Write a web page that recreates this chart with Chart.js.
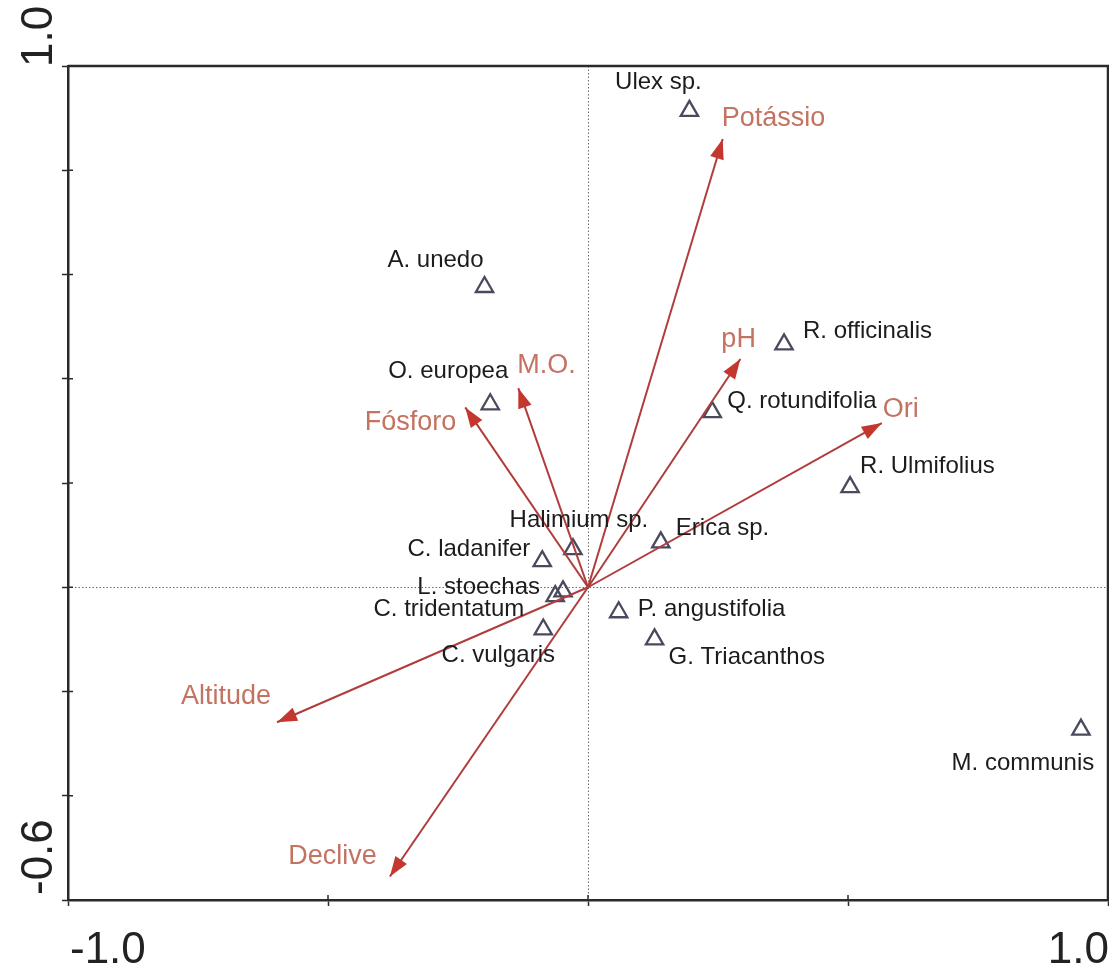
<!DOCTYPE html>
<html>
<head>
<meta charset="utf-8">
<script src="https://cdn.jsdelivr.net/npm/chart.js@4.4.1/dist/chart.umd.min.js"></script>
<style>
  html, body { margin: 0; padding: 0; background: #fff; }
  canvas { display: block; }
</style>
</head>
<body>
<canvas id="myChart" width="1109" height="969"></canvas>
<script>
// species scores
var speciesNames = ["Ulex sp.", "A. unedo", "R. officinalis", "O. europea", "Q. rotundifolia",
    "R. Ulmifolius", "Halimium sp.", "Erica sp.", "C. ladanifer", "L. stoechas",
    "C. tridentatum", "P. angustifolia", "C. vulgaris", "G. Triacanthos", "M. communis"];
var speciesX = [0.195, -0.199, 0.377, -0.188, 0.239, 0.504, -0.029, 0.140, -0.088, -0.048,
    -0.063, 0.059, -0.086, 0.128, 0.948];
var speciesY = [0.914, 0.576, 0.466, 0.351, 0.336, 0.192, 0.073, 0.086, 0.050, -0.008,
    -0.017, -0.048, -0.081, -0.100, -0.273];

// environmental variables (arrow tips)
var envNames = ["Potássio", "pH", "Ori", "M.O.", "Fósforo", "Altitude", "Declive"];
var envX = [0.259, 0.293, 0.565, -0.134, -0.236, -0.598, -0.381];
var envY = [0.860, 0.438, 0.315, 0.382, 0.345, -0.259, -0.555];

var xTickLabels = ["-1.0", "1.0"];
var yTickLabels = ["-0.6", "1.0"];

// where each label sits relative to its mark: [dx, dy, align]
var speciesLabelPos = [[-31, -28, "center"], [-49, -27, "center"], [19, -13, "left"], [-42, -33, "center"],
    [15, -11, "left"], [10, -21, "left"], [6, -29, "center"], [15, -14, "left"], [-12, -12, "right"],
    [-23, -4, "right"], [-31, 13, "right"], [19, -3, "left"], [-45, 26, "center"], [14, 18, "left"],
    [-58, 34, "center"]];
var envLabelPos = [[-1, -20, "left"], [-19, -19, "left"], [1, -14, "left"], [-1, -23, "left"],
    [-9, 15, "right"], [-6, -26, "right"], [-13, -20, "right"]];

var lineRed = "#b03c3c";
var headRed = "#c4372f";
var envTextColor = "#c47261";
var fontFamily = "'Liberation Sans', Arial, sans-serif";

var datasets = [];
for (var i = 0; i < envNames.length; i++) {
    datasets.push({
        label: envNames[i],
        data: [{x: 0, y: 0}, {x: envX[i], y: envY[i]}],
        showLine: true,
        borderColor: lineRed,
        borderWidth: 2,
        pointRadius: 0
    });
}
datasets.push({
    label: "species",
    data: speciesX.map(function (x, i) { return {x: x, y: speciesY[i]}; }),
    pointStyle: "triangle",
    pointRadius: 10,
    borderWidth: 2.3,
    borderColor: "#4a4a5e",
    backgroundColor: "rgba(0,0,0,0)"
});

var overlay = {
    id: "overlay",
    beforeDatasetsDraw: function (chart) {
        var ctx = chart.ctx, a = chart.chartArea;
        var x0 = Math.round(chart.scales.x.getPixelForValue(0)) + 0.5;
        var y0 = Math.round(chart.scales.y.getPixelForValue(0)) + 0.5;
        ctx.save();
        ctx.strokeStyle = "#6a6a6a";
        ctx.lineWidth = 1;
        ctx.setLineDash([1.5, 2]);
        ctx.beginPath();
        ctx.moveTo(x0, a.top); ctx.lineTo(x0, a.bottom);
        ctx.moveTo(a.left, y0); ctx.lineTo(a.right, y0);
        ctx.stroke();
        ctx.restore();
    },
    afterDatasetsDraw: function (chart) {
        var ctx = chart.ctx, a = chart.chartArea, xs = chart.scales.x, ys = chart.scales.y;
        var x0 = xs.getPixelForValue(0), y0 = ys.getPixelForValue(0);
        ctx.save();

        // arrowheads
        ctx.fillStyle = headRed;
        for (var i = 0; i < envNames.length; i++) {
            var tx = xs.getPixelForValue(envX[i]), ty = ys.getPixelForValue(envY[i]);
            var ang = Math.atan2(ty - y0, tx - x0);
            var len = 20, hw = 7;
            var bx = tx - len * Math.cos(ang), by = ty - len * Math.sin(ang);
            ctx.beginPath();
            ctx.moveTo(tx, ty);
            ctx.lineTo(bx + hw * Math.sin(ang), by - hw * Math.cos(ang));
            ctx.lineTo(bx - hw * Math.sin(ang), by + hw * Math.cos(ang));
            ctx.closePath();
            ctx.fill();
        }

        // variable names
        ctx.font = "27px " + fontFamily;
        ctx.fillStyle = envTextColor;
        ctx.textBaseline = "middle";
        for (var j = 0; j < envNames.length; j++) {
            var p = envLabelPos[j];
            ctx.textAlign = p[2];
            ctx.fillText(envNames[j], xs.getPixelForValue(envX[j]) + p[0], ys.getPixelForValue(envY[j]) + p[1]);
        }

        // species names
        ctx.font = "24px " + fontFamily;
        ctx.fillStyle = "#1c1c1c";
        for (var k = 0; k < speciesNames.length; k++) {
            var q = speciesLabelPos[k];
            ctx.textAlign = q[2];
            ctx.fillText(speciesNames[k], xs.getPixelForValue(speciesX[k]) + q[0], ys.getPixelForValue(speciesY[k]) + q[1]);
        }

        // top and right frame
        ctx.strokeStyle = "#2a2a2a";
        ctx.lineWidth = 2.5;
        ctx.beginPath();
        ctx.moveTo(a.left, a.top); ctx.lineTo(a.right, a.top); ctx.lineTo(a.right, a.bottom);
        ctx.stroke();

        // inner halves of tick marks
        ctx.lineWidth = 1.5;
        ctx.beginPath();
        ys.ticks.forEach(function (t) {
            var py = ys.getPixelForValue(t.value);
            ctx.moveTo(a.left, py); ctx.lineTo(a.left + 5, py);
        });
        xs.ticks.forEach(function (t) {
            var px = xs.getPixelForValue(t.value);
            ctx.moveTo(px, a.bottom); ctx.lineTo(px, a.bottom - 5);
        });
        ctx.stroke();

        // axis end labels
        ctx.font = "44px " + fontFamily;
        ctx.fillStyle = "#222";
        ctx.textBaseline = "alphabetic";
        ctx.textAlign = "left";
        ctx.fillText(xTickLabels[0], xs.getPixelForValue(xs.min) + 2, 963);
        ctx.textAlign = "right";
        ctx.fillText(xTickLabels[1], xs.getPixelForValue(xs.max) + 1, 963);
        ctx.textAlign = "left";
        [ys.min, ys.max].forEach(function (v, n) {
            ctx.save();
            ctx.translate(52, ys.getPixelForValue(v) + (n === 0 ? -5 : 1));
            ctx.rotate(-Math.PI / 2);
            ctx.fillText(yTickLabels[n], 0, 0);
            ctx.restore();
        });

        ctx.restore();
    }
};

new Chart("myChart", {
    type: "scatter",
    data: { datasets: datasets },
    options: {
        responsive: false,
        animation: false,
        layout: { autoPadding: false, padding: { top: 66, right: 1, left: 0, bottom: 0 } },
        plugins: { legend: { display: false }, tooltip: { enabled: false } },
        scales: {
            x: {
                min: -1, max: 1,
                afterFit: function (s) { s.height = 69; s.paddingLeft = 0; s.paddingRight = 0; },
                grid: { drawOnChartArea: false, tickLength: 6, tickWidth: 1.5, tickColor: "#2a2a2a" },
                border: { display: true, color: "#2a2a2a", width: 2.5 },
                ticks: { stepSize: 0.5, display: false }
            },
            y: {
                min: -0.6, max: 1,
                afterFit: function (s) { s.width = 68; },
                grid: { drawOnChartArea: false, tickLength: 6, tickWidth: 1.5, tickColor: "#2a2a2a" },
                border: { display: true, color: "#2a2a2a", width: 2.5 },
                ticks: { stepSize: 0.2, display: false }
            }
        }
    },
    plugins: [overlay]
});
</script>
</body>
</html>
